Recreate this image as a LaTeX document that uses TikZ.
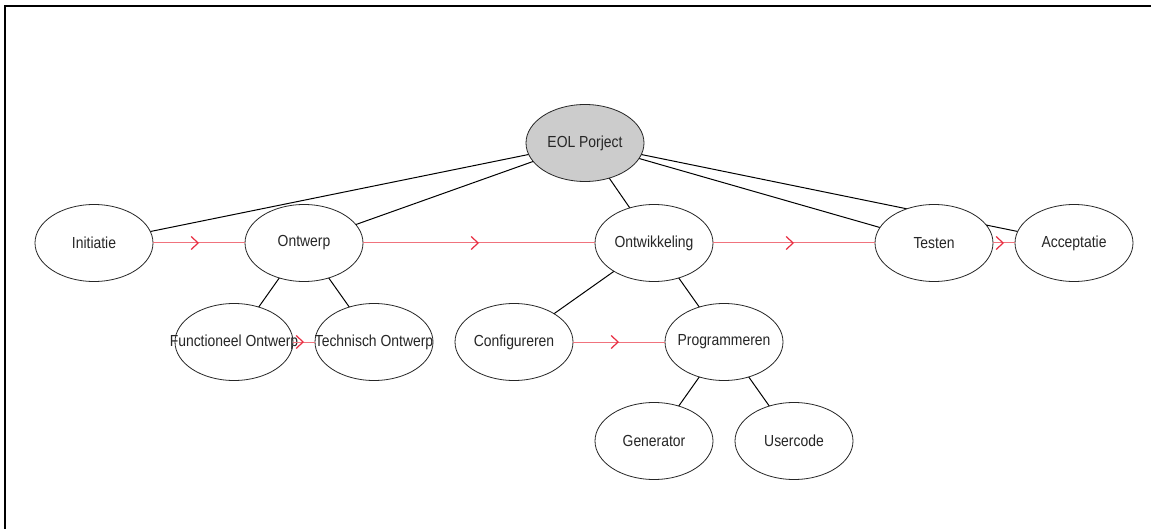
\documentclass[tikz,border=0pt]{standalone}
\usepackage{graphicx}
\usepackage{fontspec}
\setmainfont{Liberation Sans}
\usetikzlibrary{shapes.geometric, arrows.meta, decorations.markings, backgrounds}
\definecolor{flowred}{RGB}{240,115,125}
\definecolor{tipred}{RGB}{232,45,65}
\definecolor{rootgray}{RGB}{204,204,204}
\newcommand\nodetext[1]{\makebox[0pt]{\scalebox{0.87}[1]{#1}}}
\begin{document}
\begin{tikzpicture}[x=1pt,y=-1pt,
  ell/.style={ellipse, draw=black!85, line width=0.8pt, fill=white, minimum width=118pt, minimum height=77pt, inner sep=0pt, font=\fontsize{16}{18}\selectfont, text=black!85},
  tree/.style={draw=black, line width=1pt},
  flow/.style={draw=flowred, line width=1pt, postaction={decorate},
    decoration={markings, mark=at position 0.5 with {\arrow[tipred, line width=1.2pt]{Straight Barb[length=7pt,width=13pt]}}}},
  frameline/.style={draw=black, line width=2pt}]
\useasboundingbox (0,0) rectangle (1151,529);

\node[ell, fill=rootgray] (eol) at (585,143) {\nodetext{EOL Porject}};
\node[ell] (ini) at (94,243) {\nodetext{Initiatie}};
\node[ell] (ont) at (304,243) {\nodetext{Ontwerp}};
\node[ell] (fo) at (234,342) {\nodetext{Functioneel Ontwerp}};
\node[ell] (to) at (374,342) {\nodetext{Technisch Ontwerp}};
\node[ell] (ow) at (654,243) {\nodetext{Ontwikkeling}};
\node[ell] (tes) at (934,243) {\nodetext{Testen}};
\node[ell] (acc) at (1074,243) {\nodetext{Acceptatie}};
\node[ell] (cfg) at (514,342) {\nodetext{Configureren}};
\node[ell] (prg) at (724,342) {\nodetext{Programmeren}};
\node[ell] (gen) at (654,441) {\nodetext{Generator}};
\node[ell] (usr) at (794,441) {\nodetext{Usercode}};

\begin{scope}[on background layer]
  \draw[frameline] (1151,6) -- (4.5,6) -- (4.5,529);
  \draw[tree] (eol.center) -- (ini.center);
  \draw[tree] (eol.center) -- (ont.center);
  \draw[tree] (eol.center) -- (ow.center);
  \draw[tree] (eol.center) -- (tes.center);
  \draw[tree] (eol.center) -- (acc.center);
  \draw[tree] (ont.center) -- (fo.center);
  \draw[tree] (ont.center) -- (to.center);
  \draw[tree] (ow.center) -- (cfg.center);
  \draw[tree] (ow.center) -- (prg.center);
  \draw[tree] (prg.center) -- (gen.center);
  \draw[tree] (prg.center) -- (usr.center);
\end{scope}

\draw[flow] (ini) -- (ont);
\draw[flow] (ont) -- (ow);
\draw[flow] (ow) -- (tes);
\draw[flow] (tes) -- (acc);
\draw[flow] (fo) -- (to);
\draw[flow] (cfg) -- (prg);
\end{tikzpicture}
\end{document}
